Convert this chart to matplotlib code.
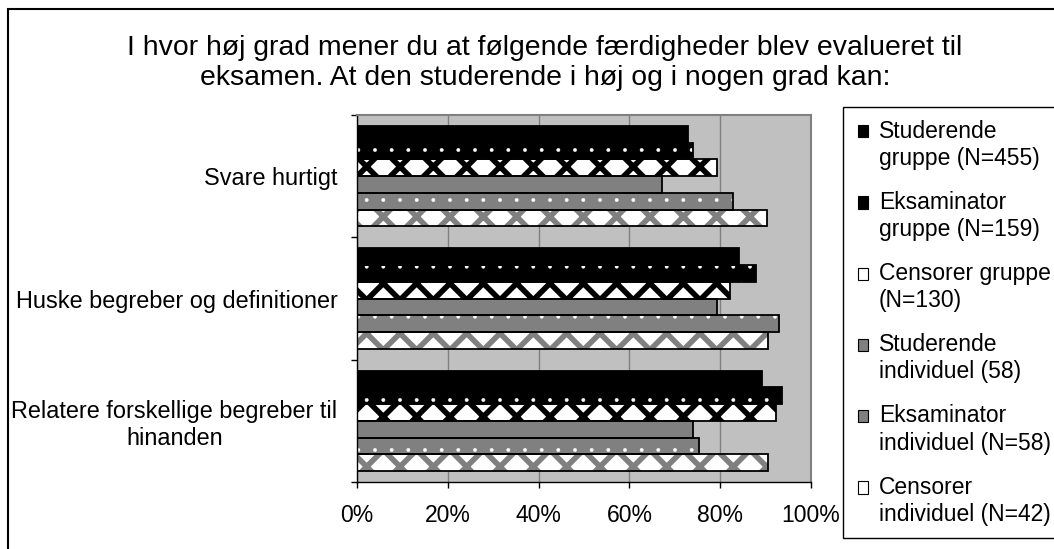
import numpy as np
import matplotlib
matplotlib.use("Agg")
import matplotlib.pyplot as plt
from matplotlib.patches import Rectangle, Patch
from matplotlib.legend_handler import HandlerPatch

plt.rcParams['font.family'] = ['Liberation Sans', 'DejaVu Sans']
plt.rcParams['hatch.linewidth'] = 4.0

# data (percent answering "high" or "some" degree)
categories = ["Svare hurtigt",
              "Huske begreber og definitioner",
              "Relatere forskellige begreber til\nhinanden"]
series = ["Studerende\ngruppe (N=455)",
          "Eksaminator\ngruppe (N=159)",
          "Censorer gruppe\n(N=130)",
          "Studerende\nindividuel (58)",
          "Eksaminator\nindividuel (N=58)",
          "Censorer\nindividuel (N=42)"]
stud_gruppe = [73.0, 84.2, 89.2]
eks_gruppe = [74.1, 87.9, 93.6]
cens_gruppe = [79.2, 82.2, 92.3]
stud_indiv = [67.1, 79.4, 74.1]
eks_indiv = [82.9, 93.0, 75.3]
cens_indiv = [90.2, 90.6, 90.6]
values = [stud_gruppe, eks_gruppe, cens_gruppe, stud_indiv, eks_indiv, cens_indiv]
xticks = [0, 20, 40, 60, 80, 100]

# face colour, hatch colour, hatch, hatch linewidth
styles = [("black", "black", None, 1.0),
          ("black", "white", ".", 0.3),
          ("white", "black", "x", 4.0),
          ("#808080", "#808080", None, 1.0),
          ("#808080", "white", ".", 0.3),
          ("white", "#808080", "x", 4.0)]

W, H = 1054, 549
fig = plt.figure(figsize=(W / 100, H / 100), dpi=100)
ax = fig.add_axes([357 / W, 1 - 482 / H, (811 - 357) / W, (482 - 115) / H])
ax.set_facecolor("#c0c0c0")

ypos = np.arange(len(categories))
h = 0.137
for i, vals in enumerate(values):
    face, hcol, hatch, hlw = styles[i]
    y = ypos + (i - 2.5) * h
    with plt.rc_context({"hatch.linewidth": hlw}):
        bars = ax.barh(y, vals, height=h, color=face, edgecolor=hcol, hatch=hatch,
                       linewidth=0, zorder=2)
    for b in bars:
        if hasattr(b, "set_hatch_linewidth"):
            b.set_hatch_linewidth(hlw)
    ax.barh(y, vals, height=h, fill=False, edgecolor="black", linewidth=1.3, zorder=3)

ax.set_xlim(0, 100)
ax.set_ylim(2.5, -0.5)
ax.set_xticks(xticks)
ax.set_xticklabels([f"{t}%" for t in xticks], fontsize=16.5)
ax.xaxis.grid(True, color="#808080", linewidth=1)
ax.set_axisbelow(True)

ax.set_yticks([-0.5, 0.5, 1.5, 2.5])
ax.set_yticklabels([])
ax.set_yticks(ypos, minor=True)
ax.set_yticklabels(categories, minor=True, fontsize=16.9, ha="right",
                   multialignment="center")
ax.tick_params(axis="y", which="minor", length=0, pad=14)
ax.tick_params(axis="y", which="major", length=4, width=1, direction="out")
ax.tick_params(axis="x", length=4, width=1, direction="out", pad=12)

for s in ["top", "right"]:
    ax.spines[s].set_color("#808080")
    ax.spines[s].set_linewidth(1.5)
for s in ["left", "bottom"]:
    ax.spines[s].set_color("black")
    ax.spines[s].set_linewidth(1)

fig.text(545 / W, 1 - 63 / H,
         "I hvor høj grad mener du at følgende færdigheder blev evalueret til\n"
         "eksamen. At den studerende i høj og i nogen grad kan:",
         ha="center", va="center", fontsize=20.4, linespacing=1.22)

# outer chart frame (runs off the right and bottom edge)
fig.add_artist(Rectangle((8 / W, -0.05), 1.1, (H - 9) / H + 0.05,
                         transform=fig.transFigure, fill=False,
                         edgecolor="black", linewidth=1.5))


def top_square(legend, orig_handle, xdescent, ydescent, width, height, fontsize):
    return Rectangle((-xdescent + 0.11 * fontsize, -ydescent + 0.62 * fontsize),
                     width, height)


handles = [Patch(facecolor=st[0], edgecolor="black", linewidth=0.8) for st in styles]
leg = fig.legend(handles, series, loc="upper left",
                 bbox_to_anchor=(843 / W, 1 - 107 / H), fontsize=16.5,
                 frameon=True, fancybox=False, framealpha=1, edgecolor="black",
                 handlelength=0.45, handleheight=0.45, handletextpad=0.56,
                 labelspacing=0.92, borderpad=0.55, borderaxespad=0,
                 handler_map={Patch: HandlerPatch(patch_func=top_square)})
leg.get_frame().set_linewidth(1)
for t in leg.get_texts():
    t.set_linespacing(1.23)

fig.savefig("out.png", dpi=100)
